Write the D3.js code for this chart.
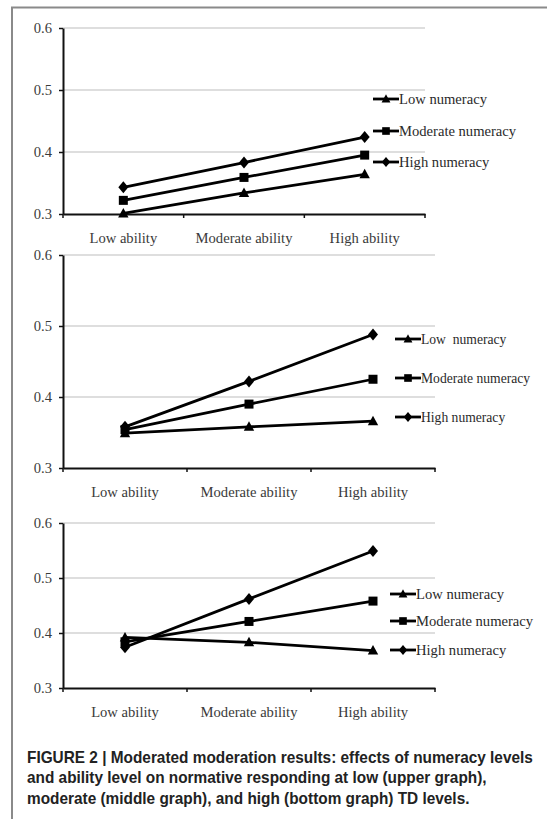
<!DOCTYPE html>
<html>
<head>
<meta charset="utf-8">
<script src="https://cdn.jsdelivr.net/npm/d3@7"></script>
<style>
  body { margin: 0; background: #fff; }
  svg { display: block; }
  .tick-label { font-family: "Liberation Serif", "DejaVu Serif", serif; font-size: 14.6px; fill: #3a3a3a; }
  .legend-label { font-family: "Liberation Serif", "DejaVu Serif", serif; fill: #2a2a2a; white-space: pre; }
  .caption { font-family: "Liberation Sans", Arial, sans-serif; font-weight: bold; font-size: 16px; fill: #222; }
</style>
</head>
<body>
<script>
// data
const categories = ["Low ability", "Moderate ability", "High ability"];
const yTicks = [0.3, 0.4, 0.5, 0.6];
const markerTypes = ["triangle", "square", "diamond"];

// upper graph (low TD)
const lowTdNames = ["Low numeracy", "Moderate numeracy", "High numeracy"];
const lowTdLowNum = [0.301, 0.334, 0.364];
const lowTdModNum = [0.322, 0.359, 0.395];
const lowTdHighNum = [0.343, 0.383, 0.424];

// middle graph (moderate TD)
const modTdNames = ["Low  numeracy", "Moderate numeracy", "High numeracy"];
const modTdLowNum = [0.349, 0.358, 0.366];
const modTdModNum = [0.354, 0.390, 0.425];
const modTdHighNum = [0.358, 0.422, 0.488];

// bottom graph (high TD)
const highTdNames = ["Low numeracy", "Moderate numeracy", "High numeracy"];
const highTdLowNum = [0.392, 0.383, 0.368];
const highTdModNum = [0.384, 0.421, 0.458];
const highTdHighNum = [0.374, 0.462, 0.549];

const captionLines = [
    "FIGURE 2 | Moderated moderation results: effects of numeracy levels",
    "and ability level on normative responding at low (upper graph),",
    "moderate (middle graph), and high (bottom graph) TD levels."
];

// panel layout
const panels = [
    { names: lowTdNames, series: [lowTdLowNum, lowTdModNum, lowTdHighNum],
      top: 28, bottom: 214, left: 63, right: 425, legX: 373, legY: [99, 131, 162], legFont: 14.6 },
    { names: modTdNames, series: [modTdLowNum, modTdModNum, modTdHighNum],
      top: 255, bottom: 468, left: 63, right: 435, legX: 395, legY: [339, 378, 417], legFont: 13.6 },
    { names: highTdNames, series: [highTdLowNum, highTdModNum, highTdHighNum],
      top: 523, bottom: 688, left: 63, right: 435, legX: 390, legY: [594, 621, 650], legFont: 14.6 }
];

const svg = d3.select("body")
    .append("svg")
    .attr("width", 547)
    .attr("height", 819);

// frame (only top and left edges visible in the crop)
svg.append("path")
    .attr("d", "M12,819 L12,7.5 L547,7.5")
    .style("fill", "none")
    .style("stroke", "#8a8a8a")
    .style("stroke-width", 2);

function markerPath(type, s) {
    if (type === "triangle") return `M0,${-5.5 * s}L${5.2 * s},${4 * s}L${-5.2 * s},${4 * s}Z`;
    if (type === "square") return `M${-4.5 * s},${-4.5 * s}h${9 * s}v${9 * s}h${-9 * s}Z`;
    return `M0,${-6 * s}L${5 * s},0L0,${6 * s}L${-5 * s},0Z`;
}

function drawPanel(p) {
    const y = d3.scaleLinear().domain([0.3, 0.6]).range([p.bottom, p.top]);
    const x = d3.scaleBand().domain(categories).range([p.left, p.right]);
    const g = svg.append("g");

    // gridlines
    g.selectAll(".grid")
        .data(yTicks.filter(d => d > 0.3))
        .enter().append("line")
        .attr("x1", p.left).attr("x2", p.right)
        .attr("y1", d => y(d)).attr("y2", d => y(d))
        .style("stroke", "#bdbdbd")
        .style("stroke-width", 1.2);

    // y axis
    const yAxis = g.append("g")
        .attr("transform", `translate(${p.left},0)`)
        .call(d3.axisLeft(y).tickValues(yTicks).tickFormat(d3.format(".1f")).tickSize(4).tickSizeOuter(0));
    yAxis.select(".domain").style("stroke", "#111").style("stroke-width", 2);
    yAxis.selectAll(".tick line").style("stroke", "#111").style("stroke-width", 1.5);
    yAxis.selectAll(".tick text")
        .attr("class", "tick-label")
        .attr("x", -11)
        .attr("font-family", null).attr("font-size", null);

    // x axis
    const xAxis = g.append("g")
        .attr("transform", `translate(0,${p.bottom})`)
        .call(d3.axisBottom(x).tickSize(0).tickSizeOuter(0));
    xAxis.select(".domain").style("stroke", "#111").style("stroke-width", 2);
    xAxis.selectAll(".tick text")
        .attr("class", "tick-label")
        .attr("y", 19)
        .attr("font-family", null).attr("font-size", null);
    // boundary ticks between categories
    const bounds = categories.map(c => x(c)).concat([x.range()[1]]);
    g.selectAll(".xbound")
        .data(bounds)
        .enter().append("line")
        .attr("x1", d => d).attr("x2", d => d)
        .attr("y1", p.bottom).attr("y2", p.bottom + 4)
        .style("stroke", "#111")
        .style("stroke-width", 1.5);

    const cx = c => x(c) + x.bandwidth() / 2;
    const line = d3.line()
        .x((d, i) => cx(categories[i]))
        .y(d => y(d));

    p.series.forEach((vals, si) => {
        g.append("path")
            .datum(vals)
            .attr("d", line)
            .style("fill", "none")
            .style("stroke", "#000")
            .style("stroke-width", 2.8);
        g.selectAll(".m" + si)
            .data(vals)
            .enter().append("path")
            .attr("d", markerPath(markerTypes[si], 1))
            .attr("transform", (d, i) => `translate(${cx(categories[i])},${y(d)})`)
            .style("fill", "#000");
    });

    // legend
    p.names.forEach((name, si) => {
        const ly = p.legY[si];
        g.append("line")
            .attr("x1", p.legX).attr("x2", p.legX + 26)
            .attr("y1", ly).attr("y2", ly)
            .style("stroke", "#000")
            .style("stroke-width", 2.8);
        g.append("path")
            .attr("d", markerPath(markerTypes[si], 0.85))
            .attr("transform", `translate(${p.legX + 13},${ly})`)
            .style("fill", "#000");
        g.append("text")
            .attr("class", "legend-label")
            .attr("x", p.legX + 26)
            .attr("y", ly)
            .attr("dy", "0.35em")
            .style("font-size", p.legFont + "px")
            .attr("xml:space", "preserve")
            .text(name);
    });
}

panels.forEach(drawPanel);

// caption, squeezed horizontally to match the condensed face
const cap = svg.append("g");
const capText = cap.selectAll("text")
    .data(captionLines)
    .enter().append("text")
    .attr("class", "caption")
    .attr("x", 0)
    .attr("y", (d, i) => 763 + i * 20.5)
    .text(d => d);
const w = capText.nodes()[0].getComputedTextLength();
const sx = 506 / w;
cap.attr("transform", `translate(27,0) scale(${sx},1)`);
</script>
</body>
</html>
